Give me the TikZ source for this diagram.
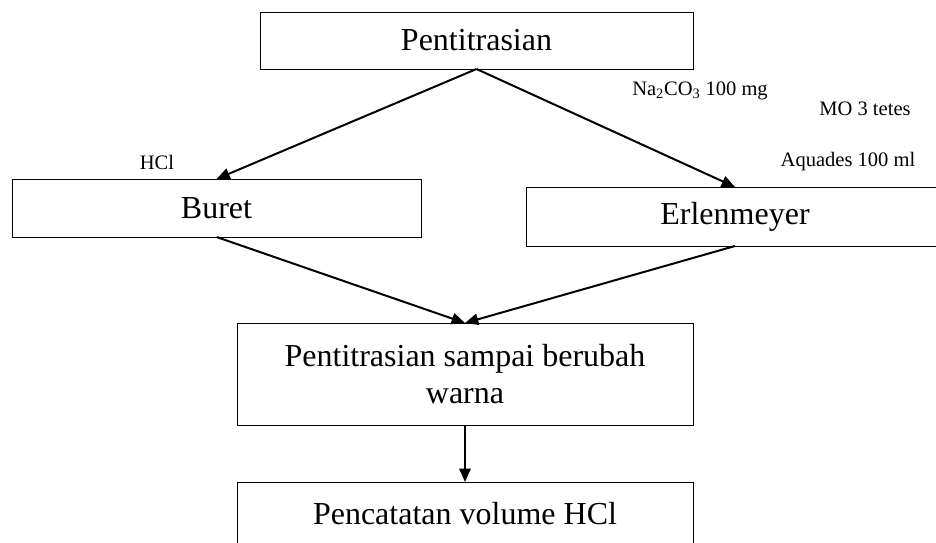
\documentclass[tikz,border=0pt]{standalone}
\usepackage{fontspec}
\setmainfont{Liberation Serif}
\usetikzlibrary{arrows.meta}

\tikzset{every picture/.style={line width=0.75pt}}
\tikzset{
  stepbox/.style={draw, line width=0.75pt, inner sep=0pt, outer sep=0pt, align=center, font=\fontsize{24}{27.75}\selectfont},
  flowarrow/.style={line width=1.5pt, -{Triangle[length=10pt,width=8.5pt]}},
  note/.style={inner sep=0.75pt, font=\fontsize{15.4}{18}\selectfont}
}

\begin{document}
\begin{tikzpicture}[x=0.75pt,y=0.75pt,yscale=-1,xscale=1]
\clip (0,0) rectangle (936,543);

%Shape: Rectangle [id:top]
\node (titrasi) [stepbox, minimum width=324.75pt, minimum height=42.75pt] at (476.5,40.5) {Pentitrasian};
%Shape: Rectangle [id:buret]
\node (buret) [stepbox, minimum width=306.75pt, minimum height=43.5pt] at (216.5,208) {Buret};
%Shape: Rectangle [id:erlenmeyer]
\node (erlen) [stepbox, minimum width=313.5pt, minimum height=44.25pt] at (735,216.5) {Erlenmeyer};
%Shape: Rectangle [id:sampai]
\node (sampai) [stepbox, minimum width=342pt, minimum height=76.5pt] at (465,374) {Pentitrasian sampai berubah\\warna};
%Shape: Rectangle [id:catat]
\node (catat) [stepbox, minimum width=342pt, minimum height=48pt] at (465,514) {Pencatatan volume HCl};

%Straight Lines [id:arrows]
\draw [flowarrow] (titrasi.south) -- (buret.north);
\draw [flowarrow] (titrasi.south) -- (erlen.north);
\draw [flowarrow] (buret.south) -- (sampai.north);
\draw [flowarrow] (erlen.south) -- (sampai.north);
\draw [flowarrow] (sampai.south) -- (catat.north);

% Text Node
\node (hcl) [note] at (157,162) {HCl};
% Text Node
\node (soda) [note] at (700,91) {Na\textsubscript{2}CO\textsubscript{3} 100 mg};
% Text Node
\node (mo) [note] at (865,109) {MO 3 tetes};
% Text Node
\node (aquades) [note] at (848,162) {Aquades 100 ml};

\end{tikzpicture}
\end{document}
